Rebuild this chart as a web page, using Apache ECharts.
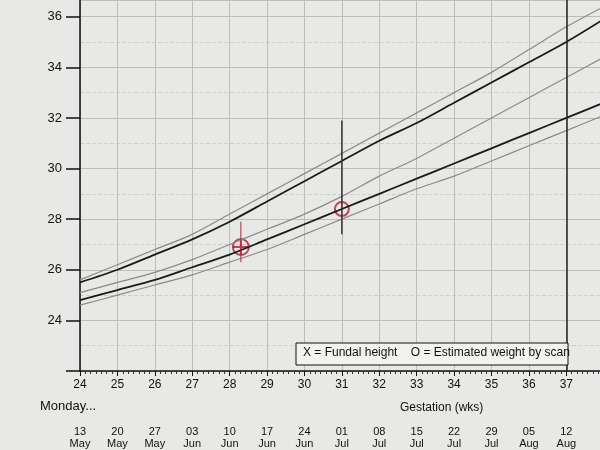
<!DOCTYPE html>
<html>
<head>
<meta charset="utf-8">
<script src="https://cdn.jsdelivr.net/npm/echarts@6/dist/echarts.min.js"></script>
<style>html,body{margin:0;background:#e8e8e6}#main{width:600px;height:450px}</style>
</head>
<body>
<div id="main"></div>
<script>
// gestation weeks and the matching Monday dates
const weeks = [24, 25, 26, 27, 28, 29, 30, 31, 32, 33, 34, 35, 36, 37, 38];
const mondays = ['13\nMay', '20\nMay', '27\nMay', '03\nJun', '10\nJun', '17\nJun', '24\nJun', '01\nJul',
  '08\nJul', '15\nJul', '22\nJul', '29\nJul', '05\nAug', '12\nAug', '19\nAug'];

// centile curves, sampled at weeks
const upperGrey  = [25.6, 26.2, 26.8, 27.4, 28.2, 29.0, 29.8, 30.6, 31.4, 32.2, 33.0, 33.8, 34.7, 35.6, 36.4];
const upperBlack = [25.5, 26.0, 26.6, 27.2, 27.9, 28.7, 29.5, 30.3, 31.1, 31.8, 32.6, 33.4, 34.2, 35.0, 35.9];
const midGrey    = [25.1, 25.5, 25.9, 26.4, 27.0, 27.6, 28.2, 28.9, 29.7, 30.4, 31.2, 32.0, 32.8, 33.6, 34.4];
const lowerBlack = [24.8, 25.2, 25.6, 26.1, 26.6, 27.2, 27.8, 28.4, 29.0, 29.6, 30.2, 30.8, 31.4, 32.0, 32.6];
const lowestGrey = [24.6, 25.0, 25.4, 25.8, 26.3, 26.8, 27.4, 28.0, 28.6, 29.2, 29.7, 30.3, 30.9, 31.5, 32.1];

const fundal = [[28.3, 26.9]];
const fundalRange = [[28.3, 26.3], [28.3, 27.9]];
const scan = [[31, 28.4]];
const scanRange = [[31, 27.4], [31, 31.9]];

const pair = arr => weeks.map((w, i) => [w, arr[i]]);
const curve = (arr, color, width) => ({
  type: 'line', data: pair(arr), smooth: 0.3, symbol: 'none',
  lineStyle: { color, width }, silent: true
});

const chart = echarts.init(document.getElementById('main'));
chart.setOption({
  backgroundColor: '#e8e8e6',
  animation: false,
  grid: { left: 80, right: 0, top: 0, bottom: 63 },
  xAxis: [{
    type: 'value', min: 24, max: 37.9, interval: 1,
    axisLine: { lineStyle: { color: '#111', width: 1.5 } },
    axisTick: { lineStyle: { color: '#111' }, length: 5 },
    minorTick: { show: true, splitNumber: 7, length: 3, lineStyle: { color: '#333' } },
    axisLabel: { color: '#111', fontSize: 12, fontFamily: 'Liberation Sans', margin: 8, showMaxLabel: false },
    splitLine: { lineStyle: { color: '#bdbdbb', width: 1 } }
  }, {
    type: 'value', min: 24, max: 37.9, interval: 1, position: 'bottom', offset: 47,
    axisLine: { show: false }, axisTick: { show: false },
    axisLabel: { color: '#111', fontSize: 11, fontFamily: 'Liberation Sans', lineHeight: 12, showMaxLabel: false,
      formatter: v => mondays[weeks.indexOf(v)] || '' },
    splitLine: { show: false }
  }],
  yAxis: {
    type: 'value', min: 22, max: 36.66, interval: 2,
    axisLine: { show: true, lineStyle: { color: '#111', width: 1.5 } },
    axisTick: { show: true, inside: false, length: 14, lineStyle: { color: '#111', width: 1.5 } },
    axisLabel: { color: '#111', fontSize: 13, fontFamily: 'Liberation Sans', margin: 18, showMaxLabel: false,
      formatter: v => (v >= 24 && v <= 36) ? String(v) : '' },
    splitLine: { lineStyle: { color: '#bdbdbb' } },
    minorSplitLine: { show: true, lineStyle: { color: '#cfcfcd', type: 'dashed' } },
    minorTick: { show: false, splitNumber: 2 }
  },
  graphic: [
    { type: 'text', left: 40, top: 400, style: { text: 'Monday...', fill: '#111', font: '13px Liberation Sans' } },
    { type: 'text', left: 400, top: 402, style: { text: 'Gestation (wks)', fill: '#111', font: '12px Liberation Sans' } },
    { type: 'rect', shape: { x: 296, y: 343, width: 272, height: 22 },
      style: { fill: '#f2f2f0', stroke: '#111', lineWidth: 1 }, z: 10 },
    { type: 'text', left: 303, top: 347, z: 11,
      style: { text: 'X = Fundal height    O = Estimated weight by scan', fill: '#111', font: '12px Liberation Sans' } }
  ],
  series: [
    curve(upperGrey, '#8a8a8a', 1.2),
    curve(midGrey, '#8a8a8a', 1.2),
    curve(lowestGrey, '#8a8a8a', 1.2),
    curve(upperBlack, '#1a1a1a', 1.8),
    Object.assign(curve(lowerBlack, '#1a1a1a', 1.8), {
      markLine: { silent: true, symbol: 'none', label: { show: false },
        lineStyle: { color: '#222', width: 1.5, type: 'solid' }, data: [{ xAxis: 37 }] }
    }),
    { type: 'line', data: fundalRange, symbol: 'none', lineStyle: { color: '#c0203a', width: 1 } },
    { type: 'line', data: scanRange, symbol: 'none', lineStyle: { color: '#333', width: 1.5 } },
    { type: 'scatter', data: fundal, symbol: 'circle', symbolSize: 16,
      itemStyle: { color: 'rgba(0,0,0,0)', borderColor: '#b01c30', borderWidth: 2 } },
    { type: 'scatter', data: fundal, symbol: 'path://M0,-10L0,10M-10,0L10,0', symbolSize: 16,
      itemStyle: { color: 'none', borderColor: '#b01c30', borderWidth: 2 } },
    { type: 'scatter', data: scan, symbol: 'circle', symbolSize: 14,
      itemStyle: { color: 'rgba(0,0,0,0)', borderColor: '#b01c30', borderWidth: 2 } }
  ]
});
</script>
</body>
</html>
